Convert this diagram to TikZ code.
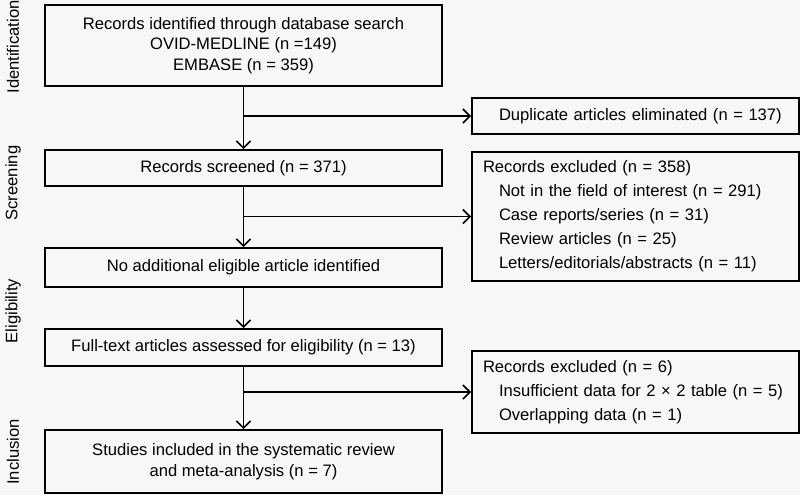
\documentclass[tikz,border=0pt]{standalone}
\usepackage{fontspec}
\setmainfont{Liberation Sans}
\usetikzlibrary{arrows.meta}
\begin{document}
\begin{tikzpicture}[x=0.5pt,y=-0.5pt,
  font=\fontsize{8.3}{10.25}\selectfont,
  mainbox/.style={draw,line width=0.85pt,minimum width=198.5pt,align=center,inner sep=0pt},
  sidebox/.style={draw,line width=0.85pt,text width=152.5pt,align=left,inner xsep=5.5pt,inner ysep=0pt,
    font=\fontsize{8.3}{12}\selectfont},
  phase/.style={rotate=90},
  flow/.style={line width=0.85pt,-{Straight Barb[length=3.5pt,width=7pt]}}]
  \fill[black!3] (0,0) rectangle (800,495);
  \useasboundingbox (0,0) rectangle (800,495);

  % phases
  \node[phase] (pid) at (13,47) {Identification};
  \node[phase] (psc) at (13,183) {Screening};
  \node[phase] (pel) at (13,311) {Eligibility};
  \node[phase] (pin) at (13,452) {Inclusion};

  % main column
  \node[mainbox,minimum height=40.5pt] (ident) at (243.5,45.5) {Records identified through database search\\OVID-MEDLINE (n =149)\\EMBASE (n = 359)};
  \node[mainbox,minimum height=18pt] (screen) at (243.5,168) {Records screened (n = 371)};
  \node[mainbox,minimum height=19.5pt] (noadd) at (243.5,267.5) {No additional eligible article identified};
  \node[mainbox,minimum height=18.5pt] (full) at (243.5,347.5) {Full-text articles assessed for eligibility (n = 13)};
  \node[mainbox,minimum height=31.5pt] (incl) at (243.5,461.5) {Studies included in the systematic review\\and meta-analysis (n = 7)};

  % exclusions
  \node[sidebox,minimum height=18pt] (dup) at (635.5,116) {\hspace*{8pt}Duplicate articles eliminated (n = 137)};
  \node[sidebox,minimum height=64.5pt] (exa) at (635.5,216.5) {Records excluded (n = 358)\\
    \hspace*{8pt}Not in the field of interest (n = 291)\\
    \hspace*{8pt}Case reports/series (n = 31)\\
    \hspace*{8pt}Review articles (n = 25)\\
    \hspace*{8pt}Letters/editorials/abstracts (n = 11)};
  \node[sidebox,minimum height=41pt] (exb) at (635.5,392) {Records excluded (n = 6)\\
    \hspace*{8pt}Insufficient data for 2 × 2 table (n = 5)\\
    \hspace*{8pt}Overlapping data (n = 1)};

  \coordinate (k1) at (ident.south |- dup.west);
  \coordinate (k2) at (screen.south |- exa.west);
  \coordinate (k3) at (full.south |- exb.west);

  \draw[flow] (ident) -- (screen);
  \draw[flow] (screen) -- (noadd);
  \draw[flow] (noadd) -- (full);
  \draw[flow] (full) -- (incl);
  \draw[flow] (k1) -- (dup);
  \draw[flow] (k2) -- (exa);
  \draw[flow] (k3) -- (exb);
\end{tikzpicture}
\end{document}
